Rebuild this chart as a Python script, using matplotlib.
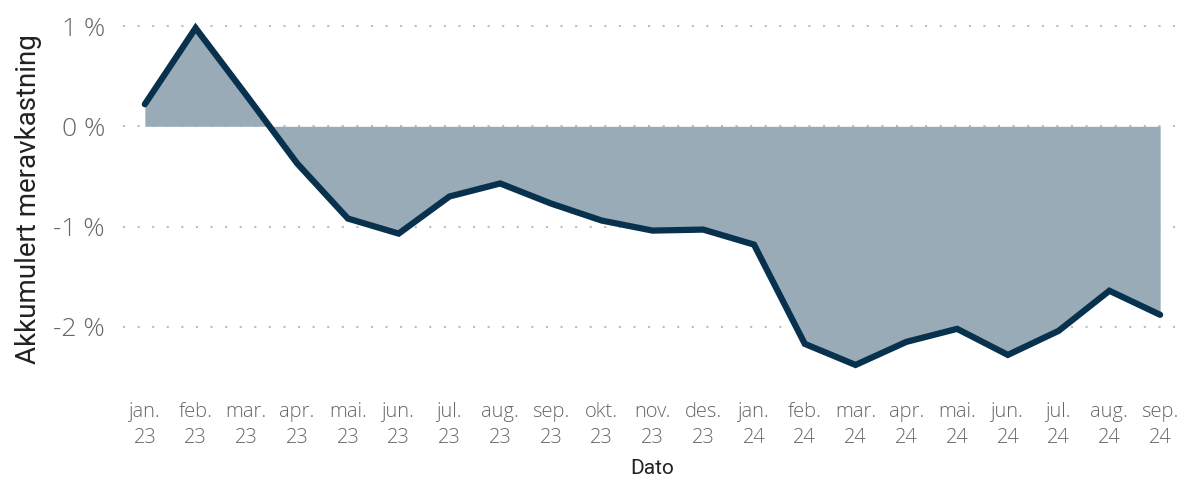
import matplotlib.pyplot as plt
import numpy as np

# Accumulated excess return (%) per month
months = ["jan.\n23", "feb.\n23", "mar.\n23", "apr.\n23", "mai.\n23", "jun.\n23",
          "jul.\n23", "aug.\n23", "sep.\n23", "okt.\n23", "nov.\n23", "des.\n23",
          "jan.\n24", "feb.\n24", "mar.\n24", "apr.\n24", "mai.\n24", "jun.\n24",
          "jul.\n24", "aug.\n24", "sep.\n24"]
values = [0.22, 0.98, 0.31, -0.37, -0.92, -1.07,
          -0.70, -0.57, -0.77, -0.94, -1.04, -1.03,
          -1.18, -2.17, -2.38, -2.15, -2.02, -2.28,
          -2.04, -1.64, -1.88]
yticks = [1, 0, -1, -2]
ytick_labels = ["1 %", "0 %", "-1 %", "-2 %"]

x = np.arange(len(months))
y = np.array(values)

fig = plt.figure(figsize=(11.83, 4.79), dpi=100)
ax = fig.add_axes([123 / 1183, 92 / 479, 1060 / 1183, 376 / 479])

ax.fill_between(x, y, 0, color="#99abb7", linewidth=0, zorder=2)
ax.plot(x, y, color="#08314d", linewidth=4.5, solid_capstyle="round",
        solid_joinstyle="miter", zorder=3)

ax.set_xlim(-0.43, 20.45)
ax.set_ylim(-2.6, 1.15)

ax.set_yticks(yticks)
ax.set_yticklabels(ytick_labels, fontsize=19, color="#666666", family="Open Sans",
                   weight="light")
ax.set_xticks(x)
ax.set_xticklabels(months, fontsize=14.5, color="#666666", family="Open Sans",
                   weight="light", linespacing=1.35)
ax.tick_params(axis="y", length=0, pad=13)
ax.tick_params(axis="x", length=0, pad=11)

ax.grid(axis="y", color="#bdbdbd", linestyle=(0, (1, 6)), linewidth=1.5, zorder=1)
for s in ax.spines.values():
    s.set_visible(False)

ax.set_ylabel("Akkumulert meravkastning", fontsize=20, color="#222222",
              family="Roboto", labelpad=8)
fig.text(652 / 1183, 1 - 468 / 479, "Dato", fontsize=15, color="#222222",
         family="Roboto", ha="center", va="center")

fig.savefig("out.png", dpi=100)
